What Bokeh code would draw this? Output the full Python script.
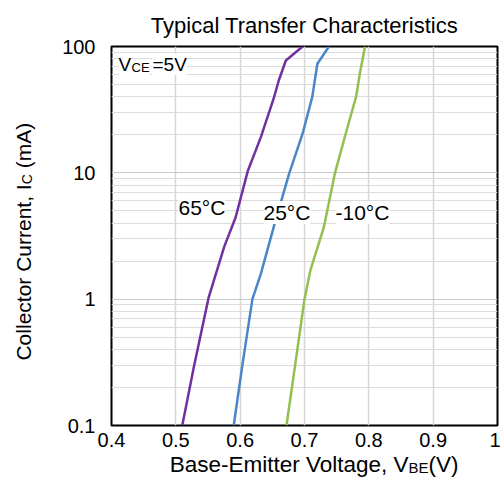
from math import pi
from bokeh.plotting import figure
from bokeh.models import FixedTicker, Label, Range1d
from bokeh.layouts import column, row
from bokeh.embed import file_html
from bokeh.resources import INLINE

# ---- data ----
v_65 = [0.510, 0.528, 0.551, 0.575, 0.593, 0.612, 0.632, 0.652, 0.660, 0.671, 0.697]
i_65 = [0.1, 0.29, 1.03, 2.58, 4.45, 10.4, 19.1, 38.6, 53.8, 77.5, 100]

v_25 = [0.590, 0.603, 0.619, 0.632, 0.652, 0.676, 0.697, 0.712, 0.720, 0.738]
i_25 = [0.1, 0.29, 1.0, 1.58, 3.7, 9.8, 20.4, 39.7, 73, 100]

v_m10 = [0.672, 0.685, 0.700, 0.709, 0.730, 0.747, 0.764, 0.780, 0.786, 0.794]
i_m10 = [0.1, 0.29, 1.0, 1.68, 3.7, 9.8, 20.4, 39.7, 60.8, 100]

series_names = ["65°C", "25°C", "-10°C"]
series_colors = ["#7030a0", "#4a86c8", "#92c050"]

x_ticks = [0.4, 0.5, 0.6, 0.7, 0.8, 0.9, 1.0]
x_tick_labels = ["0.4", "0.5", "0.6", "0.7", "0.8", "0.9", "1"]
y_ticks = [0.1, 1, 10, 100]
y_tick_labels = ["0.1", "1", "10", "100"]
y_minor = [m * d for d in (0.1, 1, 10) for m in range(2, 10)]

FONT = "Liberation Sans"

# layout: left strip (y label) 50px, main plot 450px, bottom strip (x label)
W_LEFT, W_MAIN, H_MAIN, H_TOTAL = 50, 450, 451, 494
H_BOTTOM = H_TOTAL - H_MAIN

p = figure(width=W_MAIN, height=H_MAIN,
           x_range=Range1d(0.4, 1.0), y_range=Range1d(0.1, 100),
           y_axis_type="log", output_backend="svg", toolbar_location=None,
           min_border_left=61, min_border_right=3,
           min_border_top=46, min_border_bottom=H_MAIN - 425)

p.outline_line_color = "black"
p.outline_line_width = 2

for v, i, c in zip([v_65, v_25, v_m10], [i_65, i_25, i_m10], series_colors):
    p.line(v, i, line_color=c, line_width=2.5)

# title
p.title.text = "Typical Transfer Characteristics"
p.title.align = "center"
p.title.text_font = FONT
p.title.text_font_size = "22px"
p.title.text_font_style = "normal"
p.title.text_color = "black"
p.title.standoff = 17
p.title.offset = -3

# axes
p.xaxis.ticker = FixedTicker(ticks=x_ticks)
p.xaxis.major_label_overrides = dict(zip(x_ticks, x_tick_labels))
p.yaxis.ticker = FixedTicker(ticks=y_ticks, minor_ticks=y_minor)
p.yaxis.major_label_overrides = dict(zip(y_ticks, y_tick_labels))
for ax in (p.xaxis, p.yaxis):
    ax.axis_line_color = None
    ax.major_tick_line_color = None
    ax.minor_tick_line_color = None
    ax.major_tick_out = 0
    ax.major_tick_in = 0
    ax.minor_tick_out = 0
    ax.minor_tick_in = 0
    ax.major_label_text_font = FONT
    ax.major_label_text_font_size = "20px"
    ax.major_label_text_color = "black"
p.xaxis.major_label_standoff = 7
p.yaxis.major_label_standoff = 16

p.xgrid.grid_line_color = "#d6d6d6"
p.xgrid.grid_line_width = 1.5
p.ygrid.grid_line_color = "#c8c8c8"
p.ygrid.grid_line_width = 1.2
p.ygrid.minor_grid_line_color = "#dcdcdc"
p.ygrid.minor_grid_line_width = 1


def lab(fig, text, x, y, size, units="screen", align="left", angle=0, bg=None):
    fig.add_layout(Label(x=x, y=y, x_units=units, y_units=units, text=text,
                         text_font=FONT, text_font_size=f"{size}px", text_color="black",
                         text_align=align, text_baseline="alphabetic", angle=angle,
                         background_fill_color=bg))


# in-frame labels: frame-relative screen coords (calibrated)
lab(p, "V", 7, 361, 19, bg="white")
lab(p, "CE", 20, 358, 13, bg="white")
lab(p, "=5V", 41, 361, 19, bg="white")

lab(p, series_names[0], 67, 218, 21, bg="white")
lab(p, series_names[1], 152, 213, 21, bg="white")
lab(p, series_names[2], 224, 213, 21, bg="white")


def blank(w, h):
    f = figure(width=w, height=h, x_range=Range1d(0, w), y_range=Range1d(0, h),
               output_backend="svg", toolbar_location=None, min_border=0,
               x_axis_location=None, y_axis_location=None)
    f.grid.visible = False
    f.outline_line_color = None
    return f


# left strip with the rotated y-axis title (data units == pixels, y up)
left = blank(W_LEFT, H_MAIN)
lab(left, "Collector Current, I", 23, H_MAIN - 164, 21, units="data", align="right", angle=pi / 2)
lab(left, "C", 26, H_MAIN - 164, 14, units="data", angle=pi / 2)
lab(left, "(mA)", 23, H_MAIN - 145, 21, units="data", angle=pi / 2)

# bottom strip with the x-axis title (page y -> strip y)
def by(page_y):
    return H_TOTAL - page_y

lab(bottom := blank(W_LEFT + W_MAIN, H_BOTTOM), "Base-Emitter Voltage, V", 408, by(464), 22.5,
    units="data", align="right")
lab(bottom, "BE", 408, by(467), 15, units="data")
lab(bottom, "(V)", 428, by(464), 22.5, units="data")

layout = column(row(left, p, spacing=0), bottom, spacing=0)

open("out.html", "w").write(file_html(layout, INLINE))
